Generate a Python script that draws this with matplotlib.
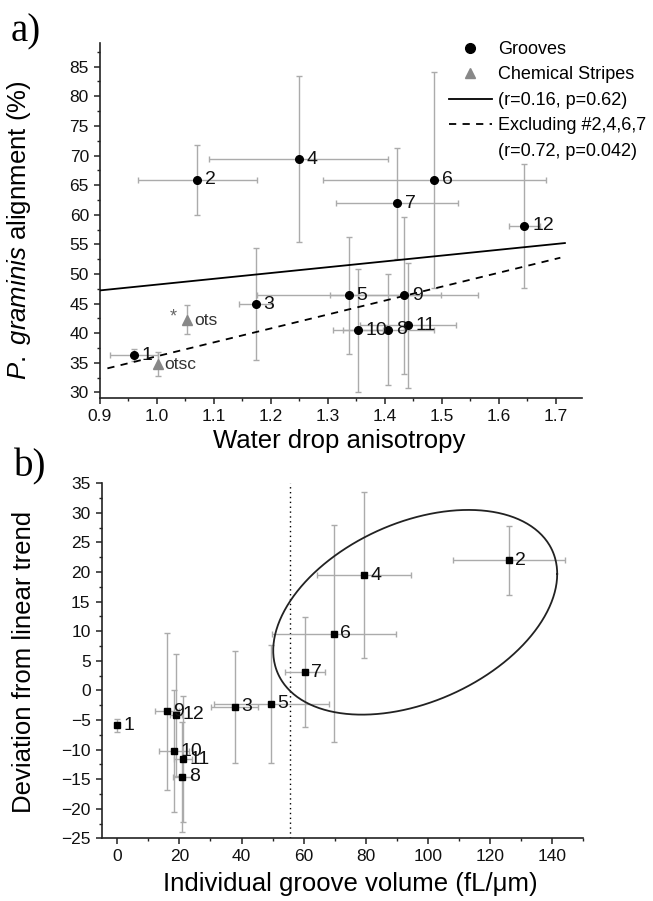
import numpy as np
import matplotlib
matplotlib.use("Agg")
import matplotlib.pyplot as plt
from matplotlib.lines import Line2D
from matplotlib.ticker import MultipleLocator

plt.rcParams['font.family'] = ['Liberation Sans', 'DejaVu Sans']
plt.rcParams['mathtext.fontset'] = 'custom'
plt.rcParams['mathtext.it'] = 'Liberation Sans:italic'
plt.rcParams['mathtext.rm'] = 'Liberation Sans'

# ---------------- Panel a data ----------------
a_ids = ['1', '2', '3', '4', '5', '6', '7', '8', '9', '10', '11', '12']
a_x = [0.959, 1.071, 1.173, 1.249, 1.337, 1.487, 1.422, 1.406, 1.434, 1.353, 1.441, 1.645]
a_y = [36.3, 65.9, 44.9, 69.4, 46.4, 65.9, 61.9, 40.6, 46.4, 40.5, 41.3, 58.1]
a_xerr = [0.042, 0.104, 0.029, 0.157, 0.162, 0.196, 0.107, 0.080, 0.130, 0.044, 0.084, 0.028]
a_yerr = [1.0, 5.9, 9.4, 14.0, 9.9, 18.2, 9.4, 9.4, 13.3, 10.4, 10.6, 10.4]

chem_ids = ['ots', 'otsc']
chem_x = [1.053, 1.001]
chem_y = [42.3, 34.8]
chem_yerr = [2.4, 2.1]

fit_all = dict(slope=9.8, intercept=38.4, x0=0.90, x1=1.716)
fit_excl = dict(slope=23.5, intercept=12.6, x0=0.913, x1=1.708)

# ---------------- Panel b data ----------------
b_ids = ['1', '2', '3', '4', '5', '6', '7', '8', '9', '10', '11', '12']
b_x = [0.0, 126.1, 37.8, 79.4, 49.5, 69.7, 60.5, 21.0, 16.1, 18.3, 21.2, 19.0]
b_y = [-5.9, 22.0, -2.8, 19.5, -2.25, 9.6, 3.1, -14.6, -3.56, -10.3, -11.6, -4.1]
b_xerr = [0.0, 18.1, 7.6, 15.2, 18.5, 19.9, 6.5, 3.0, 3.8, 4.7, 3.0, 2.0]
b_yerr = [1.05, 5.85, 9.4, 14.1, 10.0, 18.3, 9.35, 9.3, 13.3, 10.3, 10.6, 10.3]

threshold_x = 55.5
ellipse = dict(cx=95.9, cy=13.2, rx=45.7, ry=17.3, phase_deg=112)

W, H = 653, 901
fig = plt.figure(figsize=(W / 100, H / 100), dpi=100)


def px_axes(l, t, r, b):
    return fig.add_axes([l / W, 1 - b / H, (r - l) / W, (b - t) / H])


ecol = '#ababab'
tick_fs = 12.5
lab_fs = 18.5
pt_fs = 14


def style_axes(ax):
    for s in ['top', 'right']:
        ax.spines[s].set_visible(False)
    for s in ['left', 'bottom']:
        ax.spines[s].set_linewidth(1.2)
        ax.spines[s].set_color('#222222')
    ax.tick_params(which='major', direction='out', length=4, width=1.1,
                   labelsize=tick_fs, pad=4, color='#222222', labelcolor='#111111')
    ax.tick_params(which='minor', direction='out', length=2.5, width=1.0, color='#222222')


# ---------------- Panel a ----------------
axA = px_axes(100, 43, 582, 398)
axA.errorbar(a_x, a_y, xerr=a_xerr, yerr=a_yerr, fmt='none', ecolor=ecol,
             elinewidth=1.0, capsize=2.5, capthick=1.0, zorder=2)
axA.errorbar(chem_x, chem_y, yerr=chem_yerr, fmt='none', ecolor=ecol,
             elinewidth=1.0, capsize=2.5, capthick=1.0, zorder=2)
axA.plot(a_x, a_y, 'o', color='black', ms=5.5, zorder=4, linestyle='none')
axA.plot(chem_x, chem_y, '^', color='#888888', ms=6.5, zorder=4, linestyle='none')

for f, ls in [(fit_all, '-'), (fit_excl, (0, (4, 3.5)))]:
    xs = np.array([f['x0'], f['x1']])
    axA.plot(xs, f['intercept'] + f['slope'] * xs, color='black', lw=1.3,
             linestyle=ls, zorder=3)

for i, x, y in zip(a_ids, a_x, a_y):
    axA.annotate(i, (x, y), xytext=(5.5, 0), textcoords='offset points',
                 ha='left', va='center', fontsize=pt_fs, color='#111111', zorder=5)
for i, x, y in zip(chem_ids, chem_x, chem_y):
    axA.annotate(i, (x, y), xytext=(5, -0.5), textcoords='offset points',
                 ha='left', va='center', fontsize=12.5, color='#333333', zorder=5)
axA.annotate('*', (chem_x[0], chem_y[0]), xytext=(-10, 2), textcoords='offset points',
             ha='center', va='center', fontsize=13, color='#666666')

axA.set_xlim(0.9, 1.746)
axA.set_ylim(29.05, 89)
axA.xaxis.set_minor_locator(MultipleLocator(0.05))
axA.yaxis.set_minor_locator(MultipleLocator(2.5))
a_xticks = np.round(np.arange(0.9, 1.71, 0.1), 1)
axA.set_xticks(a_xticks)
axA.set_xticklabels([f'{v:.1f}' for v in a_xticks])
axA.set_yticks(np.arange(30, 86, 5))
style_axes(axA)

handles = [
    Line2D([], [], marker='o', color='black', linestyle='none', ms=7),
    Line2D([], [], marker='^', color='#888888', linestyle='none', ms=7.5),
    Line2D([], [], color='black', lw=1.3),
    Line2D([], [], color='black', lw=1.3, linestyle=(0, (4, 3.5))),
    Line2D([], [], linestyle='none'),
]
labels = ['Grooves', 'Chemical Stripes', '(r=0.16, p=0.62)',
          'Excluding #2,4,6,7', '(r=0.72, p=0.042)']
fig.legend(handles, labels, loc='upper left', bbox_to_anchor=(449 / W, 1 - 41 / H),
           frameon=False, fontsize=13, handlelength=2.37, handletextpad=0.33,
           borderpad=0, borderaxespad=0, labelspacing=0.47)

fig.text(339 / W, 1 - 441 / H, 'Water drop anisotropy', ha='center', va='center',
         fontsize=lab_fs)
fig.text(19 / W, 1 - 230 / H, r'$\it{P.\ graminis}$ alignment (%)', rotation=90,
         ha='center', va='center', fontsize=lab_fs)
fig.text(11 / W, 1 - 41 / H, 'a)', family='Liberation Serif', fontsize=28,
         ha='left', va='baseline')

# ---------------- Panel b ----------------
axB = px_axes(101.7, 483.3, 583.3, 838.3)
axB.errorbar(b_x, b_y, xerr=b_xerr, yerr=b_yerr, fmt='none', ecolor=ecol,
             elinewidth=1.0, capsize=2.5, capthick=1.0, zorder=2)
axB.plot(b_x, b_y, 's', color='black', ms=4, zorder=4, linestyle='none')
for i, x, y in zip(b_ids, b_x, b_y):
    axB.annotate(i, (x, y), xytext=(4.5, 0), textcoords='offset points',
                 ha='left', va='center', fontsize=pt_fs, color='#111111', zorder=5)

axB.axvline(threshold_x, color='black', lw=1.0, linestyle=(0, (1, 2.5)), zorder=1)

t = np.linspace(0, 2 * np.pi, 400)
ph = np.deg2rad(ellipse['phase_deg'])
ex = ellipse['cx'] + ellipse['rx'] * np.cos(t)
ey = ellipse['cy'] - ellipse['ry'] * np.cos(t - ph)
axB.plot(ex, ey, color='#222222', lw=1.3, zorder=3)

axB.set_xlim(-5, 150)
axB.set_ylim(-25, 35)
axB.xaxis.set_minor_locator(MultipleLocator(10))
axB.yaxis.set_minor_locator(MultipleLocator(2.5))
axB.set_xticks(np.arange(0, 141, 20))
axB.set_yticks(np.arange(-25, 36, 5))
style_axes(axB)

fig.text(350 / W, 1 - 884 / H, 'Individual groove volume (fL/\u03bcm)', ha='center',
         va='center', fontsize=lab_fs)
fig.text(24 / W, 1 - 662 / H, 'Deviation from linear trend', rotation=90,
         ha='center', va='center', fontsize=lab_fs)
fig.text(14 / W, 1 - 476 / H, 'b)', family='Liberation Serif', fontsize=28,
         ha='left', va='baseline')

fig.savefig('out.png', dpi=100, facecolor='white')
